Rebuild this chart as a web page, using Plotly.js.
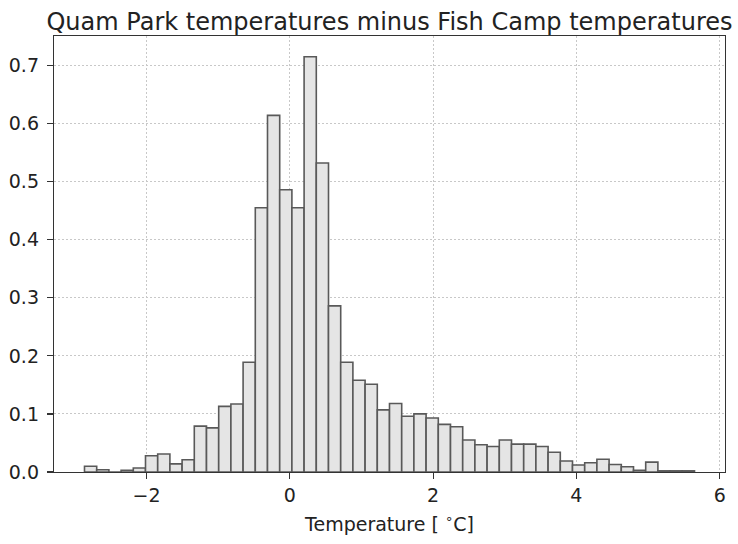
<!DOCTYPE html>
<html>
<head>
<meta charset="utf-8">
<script src="https://cdn.plot.ly/plotly-3.0.1.min.js"></script>
<style>
  html, body { margin: 0; padding: 0; background: #ffffff; }
  #chart { width: 738px; height: 544px; }
</style>
</head>
<body>
<div id="chart"></div>
<script>
// Histogram of temperature differences (density-normalised), 50 equal bins
const binLo = -2.865;
const binHi = 5.648;
const density = [
  0.010, 0.004, 0.000, 0.003, 0.007, 0.028, 0.031, 0.014, 0.021, 0.079,
  0.076, 0.113, 0.117, 0.189, 0.455, 0.614, 0.486, 0.455, 0.715, 0.532,
  0.286, 0.189, 0.158, 0.151, 0.107, 0.118, 0.096, 0.100, 0.093, 0.082,
  0.078, 0.055, 0.047, 0.044, 0.055, 0.048, 0.048, 0.044, 0.034, 0.019,
  0.012, 0.016, 0.022, 0.013, 0.009, 0.003, 0.017, 0.002, 0.002, 0.002
];
const xTicks = [-2, 0, 2, 4, 6];
const yTicks = [0, 0.1, 0.2, 0.3, 0.4, 0.5, 0.6, 0.7];

const titleText = 'Quam Park temperatures minus Fish Camp temperatures';
const xLabel = 'Temperature [ <sup>∘</sup>C]';

const binWidth = (binHi - binLo) / density.length;
const centers = density.map((_, i) => binLo + (i + 0.5) * binWidth);

const font = 'DejaVu Sans, Liberation Sans, sans-serif';

const trace = {
  type: 'bar',
  x: centers,
  y: density,
  width: binWidth,
  marker: {
    color: '#e5e5e5',
    line: { color: '#595959', width: 1.6 }
  },
  hoverinfo: 'x+y'
};

// 5% padding around the data on each axis
const span = binHi - binLo;
const xRange = [binLo - 0.05 * span, binHi + 0.05 * span];
const yMax = Math.max(...density) * 1.05;

const axisCommon = {
  showline: true,
  mirror: true,
  linecolor: '#333333',
  linewidth: 1.2,
  ticks: 'outside',
  ticklen: 6,
  tickwidth: 1.2,
  tickcolor: '#333333',
  showgrid: true,
  gridcolor: '#c8c8c8',
  gridwidth: 1,
  griddash: '1.5px,2.5px',
  zeroline: false,
  tickfont: { family: font, size: 19, color: '#222222' }
};

const layout = {
  width: 738,
  height: 544,
  margin: { l: 54, r: 13, t: 36, b: 72 },
  paper_bgcolor: '#ffffff',
  plot_bgcolor: '#ffffff',
  showlegend: false,
  bargap: 0,
  title: {
    text: titleText,
    font: { family: font, size: 24, color: '#222222' },
    x: 0.5, xref: 'paper', xanchor: 'center',
    y: 1, yref: 'paper', yanchor: 'bottom',
    pad: { b: 6 }
  },
  xaxis: Object.assign({}, axisCommon, {
    range: xRange,
    tickmode: 'array',
    tickvals: xTicks,
    title: { text: xLabel, font: { family: font, size: 19, color: '#222222' }, standoff: 12 }
  }),
  yaxis: Object.assign({}, axisCommon, {
    range: [0, yMax],
    tickmode: 'array',
    tickvals: yTicks,
    ticktext: yTicks.map(v => v.toFixed(1)),
    ticklabelstandoff: 4
  })
};

Plotly.newPlot('chart', [trace], layout, { displayModeBar: false, staticPlot: true });
</script>
</body>
</html>
